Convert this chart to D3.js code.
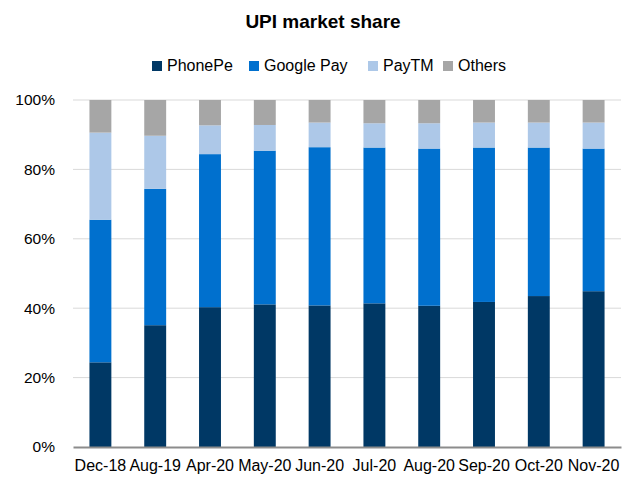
<!DOCTYPE html>
<html>
<head>
<meta charset="utf-8">
<script src="https://d3js.org/d3.v7.min.js"></script>
<style>
    body { margin: 0; background: #fff; font-family: "Liberation Sans", Arial, sans-serif; }
</style>
</head>
<body>
<div id="chart"></div>
<script>
// data (% share)
var months = ["Dec-18", "Aug-19", "Apr-20", "May-20", "Jun-20", "Jul-20", "Aug-20", "Sep-20", "Oct-20", "Nov-20"];
var phonePe = [24.4, 35.1, 40.3, 41.1, 40.8, 41.4, 40.7, 41.8, 43.5, 44.9];
var googlePay = [41.1, 39.3, 44.1, 44.3, 45.6, 44.9, 45.3, 44.5, 42.8, 41.1];
var payTM = [25.1, 15.3, 8.3, 7.4, 7.1, 7.0, 7.3, 7.2, 7.2, 7.5];
var others = [9.4, 10.3, 7.3, 7.2, 6.5, 6.7, 6.7, 6.5, 6.5, 6.5];
var seriesNames = ["PhonePe", "Google Pay", "PayTM", "Others"];
var yTicks = [0, 20, 40, 60, 80, 100];

var colors = ["#003865", "#0070ce", "#adc8e8", "#a6a6a6"];

var W = 632, H = 479;
var margin = {top: 100, right: 11, bottom: 32, left: 73};
var width = W - margin.left - margin.right,
    height = H - margin.top - margin.bottom;

var svg = d3.select("#chart").append("svg")
    .attr("width", W)
    .attr("height", H);

// title
svg.append("text")
    .attr("x", 323)
    .attr("y", 28)
    .attr("text-anchor", "middle")
    .style("font-weight", "bold")
    .style("font-size", "19px")
    .text("UPI market share");

var rows = months.map(function(m, i) {
    return {month: m, "PhonePe": phonePe[i], "Google Pay": googlePay[i], "PayTM": payTM[i], "Others": others[i]};
});
var stacked = d3.stack().keys(seriesNames)(rows);

var g = svg.append("g")
    .attr("transform", "translate(" + margin.left + "," + margin.top + ")");

var x = d3.scaleBand().domain(months).range([0, width]).paddingInner(0.6).paddingOuter(0.3);
var y = d3.scaleLinear().domain([0, 100]).range([height, 0]);

// gridlines
g.append("g")
    .selectAll("line")
    .data(yTicks.slice(1))
    .enter().append("line")
    .attr("x1", 0).attr("x2", width)
    .attr("y1", function(d) { return y(d); })
    .attr("y2", function(d) { return y(d); })
    .attr("stroke", "#d9d9d9")
    .attr("stroke-width", 1);

// bars
g.append("g")
    .selectAll("g")
    .data(stacked)
    .enter().append("g")
    .attr("fill", function(d, i) { return colors[i]; })
    .selectAll("rect")
    .data(function(d) { return d; })
    .enter().append("rect")
    .attr("x", function(d) { return x(d.data.month); })
    .attr("y", function(d) { return y(d[1]); })
    .attr("height", function(d) { return y(d[0]) - y(d[1]); })
    .attr("width", x.bandwidth());

// y axis
var yAxis = g.append("g")
    .call(d3.axisLeft(y).tickValues(yTicks).tickSize(0).tickPadding(18).tickFormat(function(d) { return d + "%"; }));
yAxis.select(".domain").remove();
yAxis.selectAll("text")
    .style("font-size", "15.5px")
    .style("font-family", "Liberation Sans, Arial, sans-serif")
    .attr("fill", "#000");

// x axis
var xAxis = g.append("g")
    .attr("transform", "translate(0," + height + ")")
    .call(d3.axisBottom(x).tickSize(0).tickPadding(13));
xAxis.select(".domain").attr("stroke", "#8c8c8c").attr("stroke-width", 2);
xAxis.selectAll("text")
    .style("font-size", "16px")
    .style("font-family", "Liberation Sans, Arial, sans-serif")
    .attr("fill", "#000");

// legend
var legendX = [152, 249, 368, 443];
var legend = svg.append("g")
    .selectAll("g")
    .data(seriesNames)
    .enter().append("g")
    .attr("transform", function(d, i) { return "translate(" + legendX[i] + ",61)"; });
legend.append("rect")
    .attr("width", 10).attr("height", 10)
    .attr("fill", function(d, i) { return colors[i]; });
legend.append("text")
    .attr("x", 15).attr("y", 10)
    .style("font-size", "16px")
    .text(function(d) { return d; });
</script>
</body>
</html>
